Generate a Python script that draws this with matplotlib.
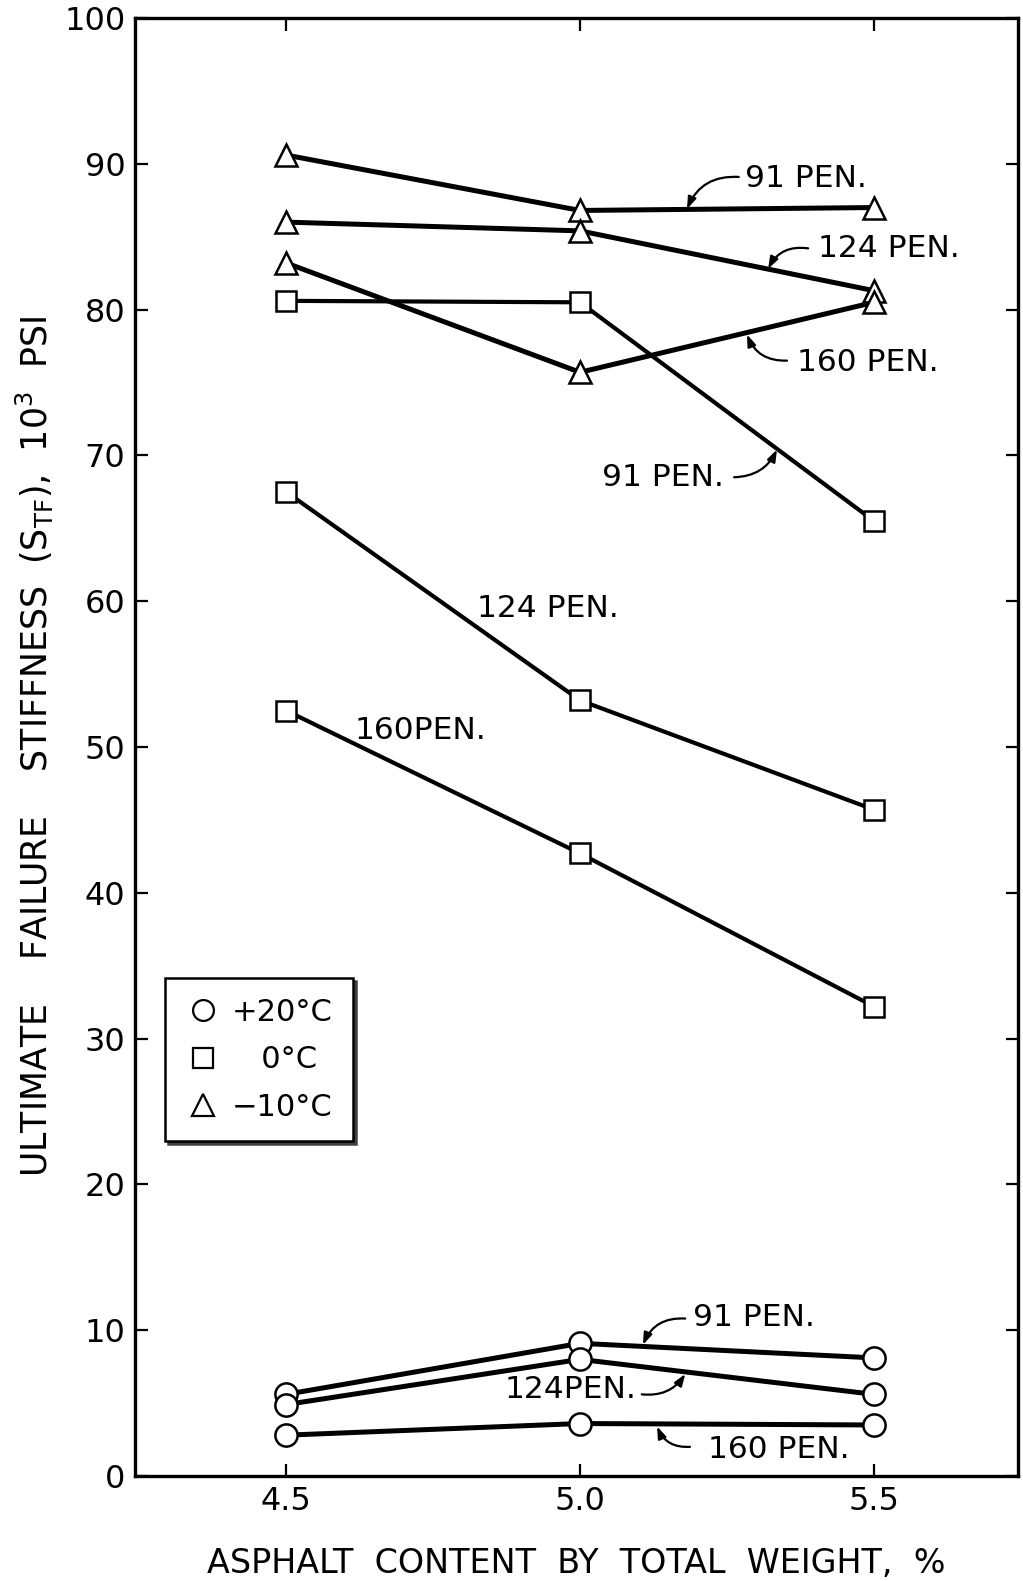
import matplotlib
matplotlib.use("Agg")
import matplotlib.pyplot as plt
from matplotlib.lines import Line2D

plt.rcParams['font.family'] = ['DejaVu Sans']

# asphalt content, %
asphalt = [4.5, 5.0, 5.5]

# -10 C (triangles)
tri_91 = [90.6, 86.8, 87.0]
tri_124 = [86.0, 85.4, 81.3]
tri_160 = [83.2, 75.7, 80.5]

# 0 C (squares)
sq_91 = [80.6, 80.5, 65.5]
sq_124 = [67.5, 53.2, 45.7]
sq_160 = [52.5, 42.7, 32.2]

# +20 C (circles)
circ_91 = [5.6, 9.1, 8.1]
circ_124 = [4.9, 8.0, 5.6]
circ_160 = [2.8, 3.6, 3.5]

x_ticks = [4.5, 5.0, 5.5]
x_tick_labels = ['4.5', '5.0', '5.5']
y_ticks = [0, 10, 20, 30, 40, 50, 60, 70, 80, 90, 100]
legend_labels = ['+20°C', '   0°C', '−10°C']

fig = plt.figure(figsize=(10.23, 15.81), dpi=100)
ax = fig.add_axes([135/1023, 1 - 1476/1581, (1018-135)/1023, (1476-18)/1581])

mk = dict(mfc='white', mec='black', mew=1.8, color='black', ms=16, zorder=3)
for ys in [tri_91, tri_124, tri_160]:
    ax.plot(asphalt, ys, marker='^', lw=3.6, **mk)
for ys in [sq_91, sq_124, sq_160]:
    ax.plot(asphalt, ys, marker='s', lw=3.0, ms=15, mfc='white', mec='black', mew=1.8, color='black', zorder=3)
for ys in [circ_91, circ_124, circ_160]:
    ax.plot(asphalt, ys, marker='o', lw=3.6, **mk)

ax.set_xlim(4.243, 5.745)
ax.set_ylim(0, 100)
ax.set_xticks(x_ticks)
ax.set_xticklabels(x_tick_labels)
ax.set_yticks(y_ticks)
ax.tick_params(direction='in', length=9, width=1.6, labelsize=23, pad=7,
               top=True, right=True)
for s in ax.spines.values():
    s.set_linewidth(2.4)

ax.set_xlabel('ASPHALT  CONTENT  BY  TOTAL  WEIGHT,  %', fontsize=24, labelpad=22)
ax.set_ylabel(r'ULTIMATE    FAILURE    STIFFNESS  (S$_\mathregular{TF}$),  10$^\mathregular{3}$  PSI',
              fontsize=25, labelpad=6)

fs = 22.5
# labels: text, left x, center y
labels = [
    ('91 PEN.', 5.281, 89.0),
    ('124 PEN.', 5.405, 84.2),
    ('160 PEN.', 5.369, 76.4),
    ('91 PEN.', 5.037, 68.5),
    ('124 PEN.', 4.825, 59.5),
    ('160PEN.', 4.617, 51.1),
    ('91 PEN.', 5.192, 10.9),
    ('124PEN.', 4.872, 5.9),
    ('160 PEN.', 5.218, 1.85),
]
for t, lx, ly in labels:
    ax.text(lx, ly, t, fontsize=fs, ha='left', va='center')

# arrows: tail, tip, curvature
arrows = [
    ((5.270, 89.1), (5.182, 86.9), 0.35),
    ((5.388, 84.2), (5.320, 82.8), 0.35),
    ((5.352, 76.5), (5.284, 78.3), -0.35),
    ((5.262, 68.5), (5.335, 70.4), 0.3),
    ((5.179, 10.8), (5.107, 9.0), 0.35),
    ((5.105, 5.6), (5.179, 7.0), 0.3),
    ((5.187, 2.0), (5.131, 3.4), -0.35),
]
for tail, tip, rad in arrows:
    ax.annotate('', xy=tip, xytext=tail,
                arrowprops=dict(arrowstyle='-|>,head_length=0.7,head_width=0.25',
                                connectionstyle='arc3,rad=%s' % rad,
                                color='black', lw=1.6, shrinkA=0, shrinkB=0))

handles = [
    Line2D([], [], marker='o', ls='none', mfc='white', mec='black', mew=1.6, ms=15),
    Line2D([], [], marker='s', ls='none', mfc='white', mec='black', mew=1.6, ms=14),
    Line2D([], [], marker='^', ls='none', mfc='white', mec='black', mew=1.6, ms=16),
]
leg = ax.legend(handles, legend_labels, loc='upper left',
                bbox_to_anchor=(165/1023, 1 - 978/1581), bbox_transform=fig.transFigure,
                fontsize=22, frameon=True, fancybox=False, framealpha=1,
                edgecolor='black', shadow={'color': '0.25', 'alpha': 1},
                borderaxespad=0, handletextpad=0.35, labelspacing=0.6,
                handlelength=1.2, borderpad=0.65)
leg.get_frame().set_linewidth(1.8)

fig.savefig('out.png', dpi=100, facecolor='white')
